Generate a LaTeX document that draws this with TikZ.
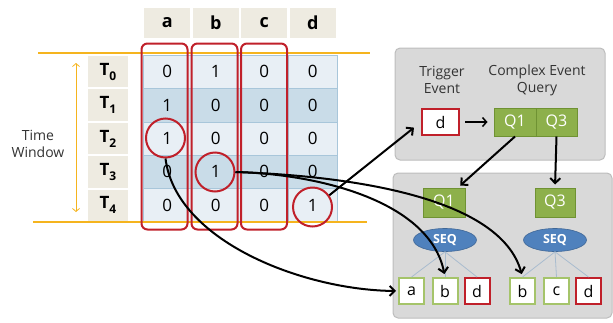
\documentclass[tikz,border=0pt]{standalone}
\usepackage{fontspec}
\setmainfont{Open Sans}
\usetikzlibrary{arrows.meta,shapes.geometric}
\definecolor{hdr}{HTML}{EEEBE1}
\definecolor{rowL}{HTML}{E8EFF5}
\definecolor{rowD}{HTML}{C9DCE8}
\definecolor{gridc}{HTML}{A8C6DA}
\definecolor{gold}{HTML}{F5B41E}
\definecolor{redc}{HTML}{C0202A}
\definecolor{boxg}{HTML}{D9D9D9}
\definecolor{boxb}{HTML}{BDBDBD}
\definecolor{qgreen}{HTML}{8DB04B}
\definecolor{qgreenb}{HTML}{6F9233}
\definecolor{seqb}{HTML}{4F81BD}
\definecolor{lgreen}{HTML}{A5C46A}
\definecolor{treec}{HTML}{A9BCCF}
\begin{document}
\begin{tikzpicture}[x=1pt,y=-1pt,
  cell/.style={minimum width=48.5pt,minimum height=33.4pt,inner sep=0pt,draw=gridc,line width=0.5pt,font=\fontsize{17}{17}\selectfont},
  hdrcell/.style={fill=hdr,minimum width=46pt,minimum height=30pt,inner sep=0pt,font=\fontsize{18}{18}\selectfont\bfseries},
  tcell/.style={fill=hdr,minimum width=40pt,minimum height=31.4pt,inner sep=0pt,font=\fontsize{17}{17}\selectfont\bfseries},
  colbox/.style={draw=redc,line width=2pt,rounded corners=6pt,minimum width=46pt,minimum height=186pt,inner sep=0pt},
  hit/.style={draw=redc,line width=2pt,circle,minimum size=39pt,inner sep=0pt},
  panel/.style={fill=boxg,draw=boxb,line width=1pt,rounded corners=5pt,inner sep=0pt},
  qbox/.style={fill=qgreen,draw=qgreenb,line width=1pt,text=white,minimum height=28pt,inner sep=0pt,font=\fontsize{16}{16}\selectfont},
  seq/.style={ellipse,fill=seqb,draw=seqb!80!black,line width=0.6pt,minimum width=63pt,minimum height=23pt,inner sep=0pt,text=white,font=\fontsize{12.5}{12.5}\selectfont\bfseries},
  evg/.style={fill=white,draw=lgreen,line width=2pt,minimum width=25pt,minimum height=26pt,inner sep=0pt,font=\fontsize{16}{16}\selectfont},
  evr/.style={evg,draw=redc},
  lbl/.style={align=center,font=\fontsize{14}{17}\selectfont,text=black!80},
  tree/.style={draw=treec,line width=0.8pt},
  flow/.style={draw=black,line width=2pt,-{Straight Barb[length=5pt,width=10pt]}},
  thinflow/.style={draw=black,line width=1.5pt,-{Straight Barb[length=4pt,width=9pt]}},
  window/.style={draw=gold,line width=0.8pt,{Straight Barb[length=3pt,width=7pt]}-{Straight Barb[length=3pt,width=7pt]}}
]
\useasboundingbox (0,0) rectangle (613,322);
% header row
\foreach \c/\x in {a/167.25,b/215.75,c/264.25,d/312.75}
  \node[hdrcell] (h-\c) at (\x,23) {\c};
% table body
\foreach \r/\f/\va/\vb/\vc/\vd in {0/rowL/0/1/0/0,1/rowD/1/0/0/0,2/rowL/1/0/0/0,3/rowD/0/1/0/0,4/rowL/0/0/0/1}{
  \pgfmathsetmacro\yy{55+33.4*(\r+0.5)}
  \node[cell,fill=\f] (c-\r-a) at (167.25,\yy) {\va};
  \node[cell,fill=\f] (c-\r-b) at (215.75,\yy) {\vb};
  \node[cell,fill=\f] (c-\r-c) at (264.25,\yy) {\vc};
  \node[cell,fill=\f] (c-\r-d) at (312.75,\yy) {\vd};
  \node[tcell] (t-\r) at (108,\yy) {T\raisebox{-5pt}{\fontsize{12}{12}\selectfont\r}};
}
% time window
\draw[gold,line width=2pt] (38,53) -- (370,53);
\draw[gold,line width=2pt] (33,222) -- (367,222);
\draw[window] (76,63) -- (76,212);
\node[lbl] (tw) at (38,144) {Time\\Window};
% column boxes
\node[colbox] (ca) at (164.5,136.5) {};
\node[colbox] (cb) at (214.5,136.5) {};
\node[colbox] (cc) at (264,136.5) {};
% hits
\node[hit] (acirc) at (165.5,138) {};
\node[hit] (bcirc) at (215,172) {};
\node[hit] (dcirc) at (312.5,207) {};
% panels
\node[panel,minimum width=210pt,minimum height=112pt] (p1) at (500,104) {};
\node[panel,minimum width=219pt,minimum height=145pt] (p2) at (502.5,245.5) {};
\node[lbl] (trig) at (442,80) {Trigger\\Event};
\node[lbl] (ceq) at (537,80) {Complex Event\\Query};
\node[evr,minimum width=37pt,minimum height=26pt] (dbox) at (440.5,122) {d};
\node[qbox,minimum width=42pt] (q1) at (515,122) {Q1};
\node[qbox,minimum width=41pt] (q3) at (556.5,122) {Q3};
\node[qbox,minimum width=42pt,minimum height=29pt] (lq1) at (444,202.5) {Q1};
\node[qbox,minimum width=40pt,minimum height=29pt] (lq3) at (555,202.5) {Q3};
\node[seq] (seq1) at (445,240) {SEQ};
\node[seq] (seq2) at (555,240) {SEQ};
\node[evg] (la) at (411.5,291) {a};
\node[evg] (lb) at (445,291) {b};
\node[evr] (ld) at (477,291) {d};
\node[evg] (rb) at (522.5,291) {b};
\node[evg] (rc) at (556.5,291) {c};
\node[evr] (rd) at (588.5,291) {d};
\foreach \s/\t in {seq1/la,seq1/lb,seq1/ld,seq2/rb,seq2/rc,seq2/rd}
  \draw[tree] (\s.south) -- (\t.north);
% arrows
\draw[thinflow,shorten <=5pt,shorten >=6pt] (dbox.east) -- (q1.west);
\draw[flow,shorten >=3pt] (q1.south) -- ([xshift=14pt]lq1.north);
\draw[flow,shorten >=3pt] (q3.south) -- (lq3.north);
\draw[flow,shorten >=9pt] (dcirc.35) -- (dbox.west);
\draw[flow,shorten >=3pt] (bcirc.east) .. controls +(85,2) and +(-15,-75) .. (lb.north);
\draw[flow,shorten >=3pt] (bcirc.east) .. controls +(115,4) and +(-22,-80) .. (rb.north);
\draw[flow,shorten >=2pt] (acirc.south) .. controls +(10,82) and +(-96,-1) .. (la.west);
\end{tikzpicture}
\end{document}
